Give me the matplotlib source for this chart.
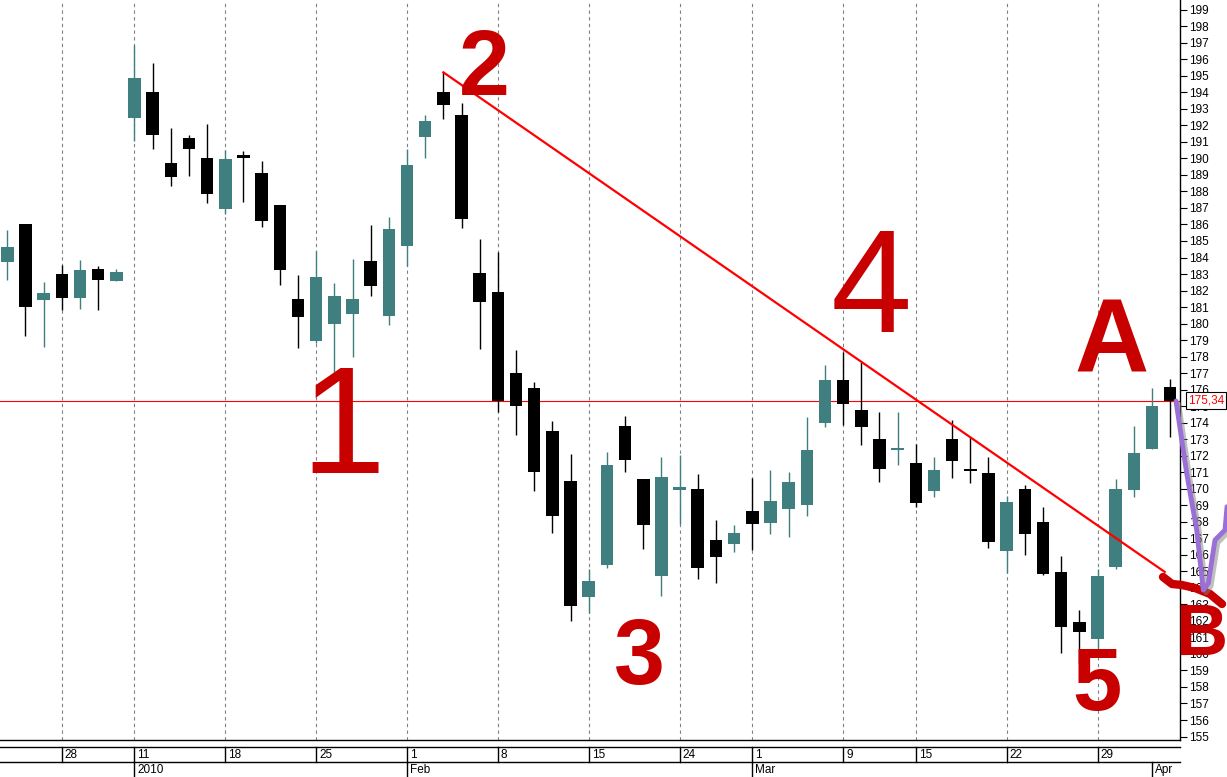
import numpy as np
import matplotlib
matplotlib.use('Agg')
import matplotlib.pyplot as plt
from matplotlib import transforms
from matplotlib.lines import Line2D
import matplotlib.patheffects as pe

plt.rcParams['font.family'] = ['Liberation Sans', 'DejaVu Sans']

# daily OHLC, Dec 2009 - Apr 2010
opens = [183.75, 186.03, 181.45, 183.00, 181.57, 183.30, 182.60, 192.46, 194.02, 189.72,
         191.23, 190.02, 186.95, 190.17, 189.11, 187.18, 181.49, 178.96, 179.99, 180.60,
         183.79, 180.48, 184.71, 191.31, 194.02, 192.63, 183.04, 181.91, 176.99, 176.10,
         173.50, 170.47, 163.47, 165.40, 173.80, 170.59, 164.74, 169.94, 169.99, 166.90,
         166.68, 168.65, 167.95, 168.79, 168.99, 174.00, 176.59, 174.77, 173.01, 172.35,
         171.56, 169.88, 173.01, 171.20, 170.96, 166.25, 169.99, 167.99, 164.96, 161.94,
         160.92, 165.28, 169.94, 172.43, 176.14]
highs = [185.66, 186.03, 182.50, 183.55, 183.85, 183.48, 183.30, 196.86, 195.77, 191.84,
         191.42, 192.08, 190.51, 190.45, 189.84, 187.18, 182.94, 184.39, 182.46, 183.91,
         185.97, 186.45, 190.55, 192.63, 195.21, 193.33, 185.12, 184.31, 178.40, 176.46,
         174.10, 172.10, 165.12, 172.21, 174.40, 170.62, 171.91, 172.03, 170.89, 168.11,
         167.81, 170.65, 171.15, 171.03, 174.35, 177.49, 178.30, 177.69, 174.62, 174.62,
         172.69, 171.91, 174.16, 173.15, 171.92, 169.54, 170.21, 168.90, 165.93, 162.66,
         165.13, 170.59, 173.80, 176.10, 176.64]
lows = [182.64, 179.27, 178.60, 180.82, 180.88, 180.82, 182.60, 191.07, 190.59, 188.35,
        188.95, 187.32, 186.65, 187.38, 185.86, 182.35, 178.54, 178.81, 177.09, 178.00,
        181.69, 179.93, 183.50, 190.04, 192.37, 185.80, 178.44, 174.67, 173.25, 169.87,
        167.34, 162.01, 162.46, 165.22, 171.03, 166.37, 163.53, 167.85, 164.52, 164.28,
        166.19, 166.31, 167.28, 167.10, 168.37, 173.72, 173.86, 172.65, 170.43, 171.44,
        168.92, 169.52, 170.67, 170.37, 166.40, 164.88, 165.97, 164.76, 160.08, 159.47,
        160.24, 165.14, 169.52, 172.39, 173.12]
closes = [184.63, 181.02, 181.83, 181.57, 183.24, 182.66, 183.12, 194.87, 191.43, 188.89,
          190.59, 187.86, 189.96, 190.04, 186.23, 183.26, 180.42, 182.82, 181.67, 181.49,
          182.29, 185.73, 189.60, 192.26, 193.25, 186.35, 181.33, 175.33, 175.03, 171.03,
          168.37, 162.92, 164.41, 171.44, 171.76, 167.82, 170.71, 170.11, 165.22, 165.89,
          167.33, 167.89, 169.26, 170.41, 172.35, 176.59, 175.13, 173.76, 171.22, 172.49,
          169.16, 171.14, 171.70, 171.06, 166.80, 169.20, 167.28, 164.86, 161.65, 161.35,
          164.72, 169.99, 172.18, 175.01, 175.34]
last_price = 175.34

day_pos = [3, 7, 12, 17, 22, 27, 32, 37, 41, 46, 50, 55, 60]
day_labels = ['28', '11', '18', '25', '1', '8', '15', '24', '1', '9', '15', '22', '29']
month_pos = [7, 22, 41, 63]
month_labels = ['2010', 'Feb', 'Mar', 'Apr']

# trend line: from the Feb high through the March high
trend_start = 24
trend_through = (46, 178.45)
trend_end = 63.7

TEAL = '#3f7f7f'
W, H = 1227, 777

fig = plt.figure(figsize=(W / 100, H / 100), dpi=100)
ax = fig.add_axes([0, 37 / H, 1180 / W, 740 / H])

o = np.array(opens); c = np.array(closes)
hi = np.array(highs); lo = np.array(lows)
x = np.arange(len(o))
cols = np.where(c > o, TEAL, 'black')

ax.vlines(x, lo, hi, colors=cols, lw=1.0, zorder=2)
h = np.abs(c - o)
mid = (c + o) / 2
hh = np.maximum(h, 0.15)
ax.bar(x, hh, width=0.69, bottom=mid - hh / 2, color=cols, linewidth=0, zorder=3)

ax.set_xlim(-0.40, 64.54)
ax.set_ylim(154.79, 199.59)

ax.set_xticks(day_pos)
ax.tick_params(axis='x', length=0, labelbottom=False)
ax.grid(axis='x', color='#808080', linestyle=(0, (3, 3)), linewidth=0.8)
ax.set_axisbelow(True)

ax.yaxis.tick_right()
ax.set_yticks(np.arange(155, 200))
ax.tick_params(axis='y', direction='out', length=5, width=0.8, pad=1.5,
               labelsize=8.5, colors='black')
for s in ['left', 'top']:
    ax.spines[s].set_visible(False)
for s in ['right', 'bottom']:
    ax.spines[s].set_color('black')
    ax.spines[s].set_linewidth(1.0)

# last price line and label
ax.axhline(last_price, color='red', lw=0.8, zorder=1)
ax.text(1.0 + 8 / 1180, last_price, f'{last_price:.2f}'.replace('.', ','),
        transform=transforms.blended_transform_factory(ax.transAxes, ax.transData),
        color='red', va='center', ha='left', fontsize=8.5, clip_on=False, zorder=6,
        bbox=dict(boxstyle='square,pad=0.18', fc='white', ec='black', lw=0.8))

# trend line
slope = (trend_through[1] - highs[trend_start]) / (trend_through[0] - trend_start)
ax.plot([trend_start, trend_end],
        [highs[trend_start], highs[trend_start] + slope * (trend_end - trend_start)],
        color='red', lw=1.6, zorder=4)

# date axis rows
def fy(ypx):
    return 1 - ypx / H

xr = 1180 / W
for ypx in (747, 762):
    fig.add_artist(Line2D([0, xr], [fy(ypx)] * 2, color='black', lw=1.0,
                          transform=fig.transFigure))

blend = transforms.blended_transform_factory(ax.transData, fig.transFigure)
txt_tr = transforms.offset_copy(blend, fig=fig, x=3, y=0, units='dots')
for p, lab in zip(day_pos, day_labels):
    fig.add_artist(Line2D([p, p], [fy(747), fy(762)], color='black', lw=1.0, transform=blend))
    ax.text(p, fy(755), lab, transform=txt_tr, va='center', ha='left',
            fontsize=8.5, clip_on=False)
for p, lab in zip(month_pos, month_labels):
    fig.add_artist(Line2D([p, p], [fy(762), fy(777)], color='black', lw=1.0, transform=blend))
    ax.text(p, fy(770), lab, transform=txt_tr, va='center', ha='left',
            fontsize=8.5, clip_on=False)

# hand drawn marks
RED = '#c80000'
marks = [('1', 343, 473, 110, 'normal'), ('2', 484, 95, 66, 'bold'),
         ('3', 639, 684, 66, 'bold'), ('4', 871, 332, 105, 'normal'),
         ('5', 1097, 710, 64, 'bold'), ('A', 1112, 372, 74, 'bold'),
         ('B', 1201, 655, 52, 'bold')]
for s, cx, by, fs, fw in marks:
    fig.text(cx / W, fy(by), s, color=RED, fontsize=fs, fontweight=fw,
             family='Liberation Sans', ha='center', va='baseline')

squig_x = [1163, 1172, 1182, 1195, 1210, 1222]
squig_y = [577, 584, 585, 588, 594, 604]
fig.add_artist(Line2D([v / W for v in squig_x], [fy(v) for v in squig_y], color=RED,
                      lw=6, solid_capstyle='round', solid_joinstyle='round',
                      transform=fig.transFigure))

pur_x = [1176, 1186.7, 1196.7, 1203.3, 1208.3, 1215, 1225, 1227]
pur_y = [401, 473.3, 530, 590, 583.3, 540, 530, 506.7]
fig.add_artist(Line2D([v / W for v in pur_x], [fy(v) for v in pur_y], color='#9a6fd6',
                      lw=3.5, solid_capstyle='round', solid_joinstyle='round',
                      transform=fig.transFigure,
                      path_effects=[pe.SimpleLineShadow(offset=(2, -2), shadow_color='gray', alpha=0.5),
                                    pe.Normal()]))

fig.savefig('out.png', dpi=100)
